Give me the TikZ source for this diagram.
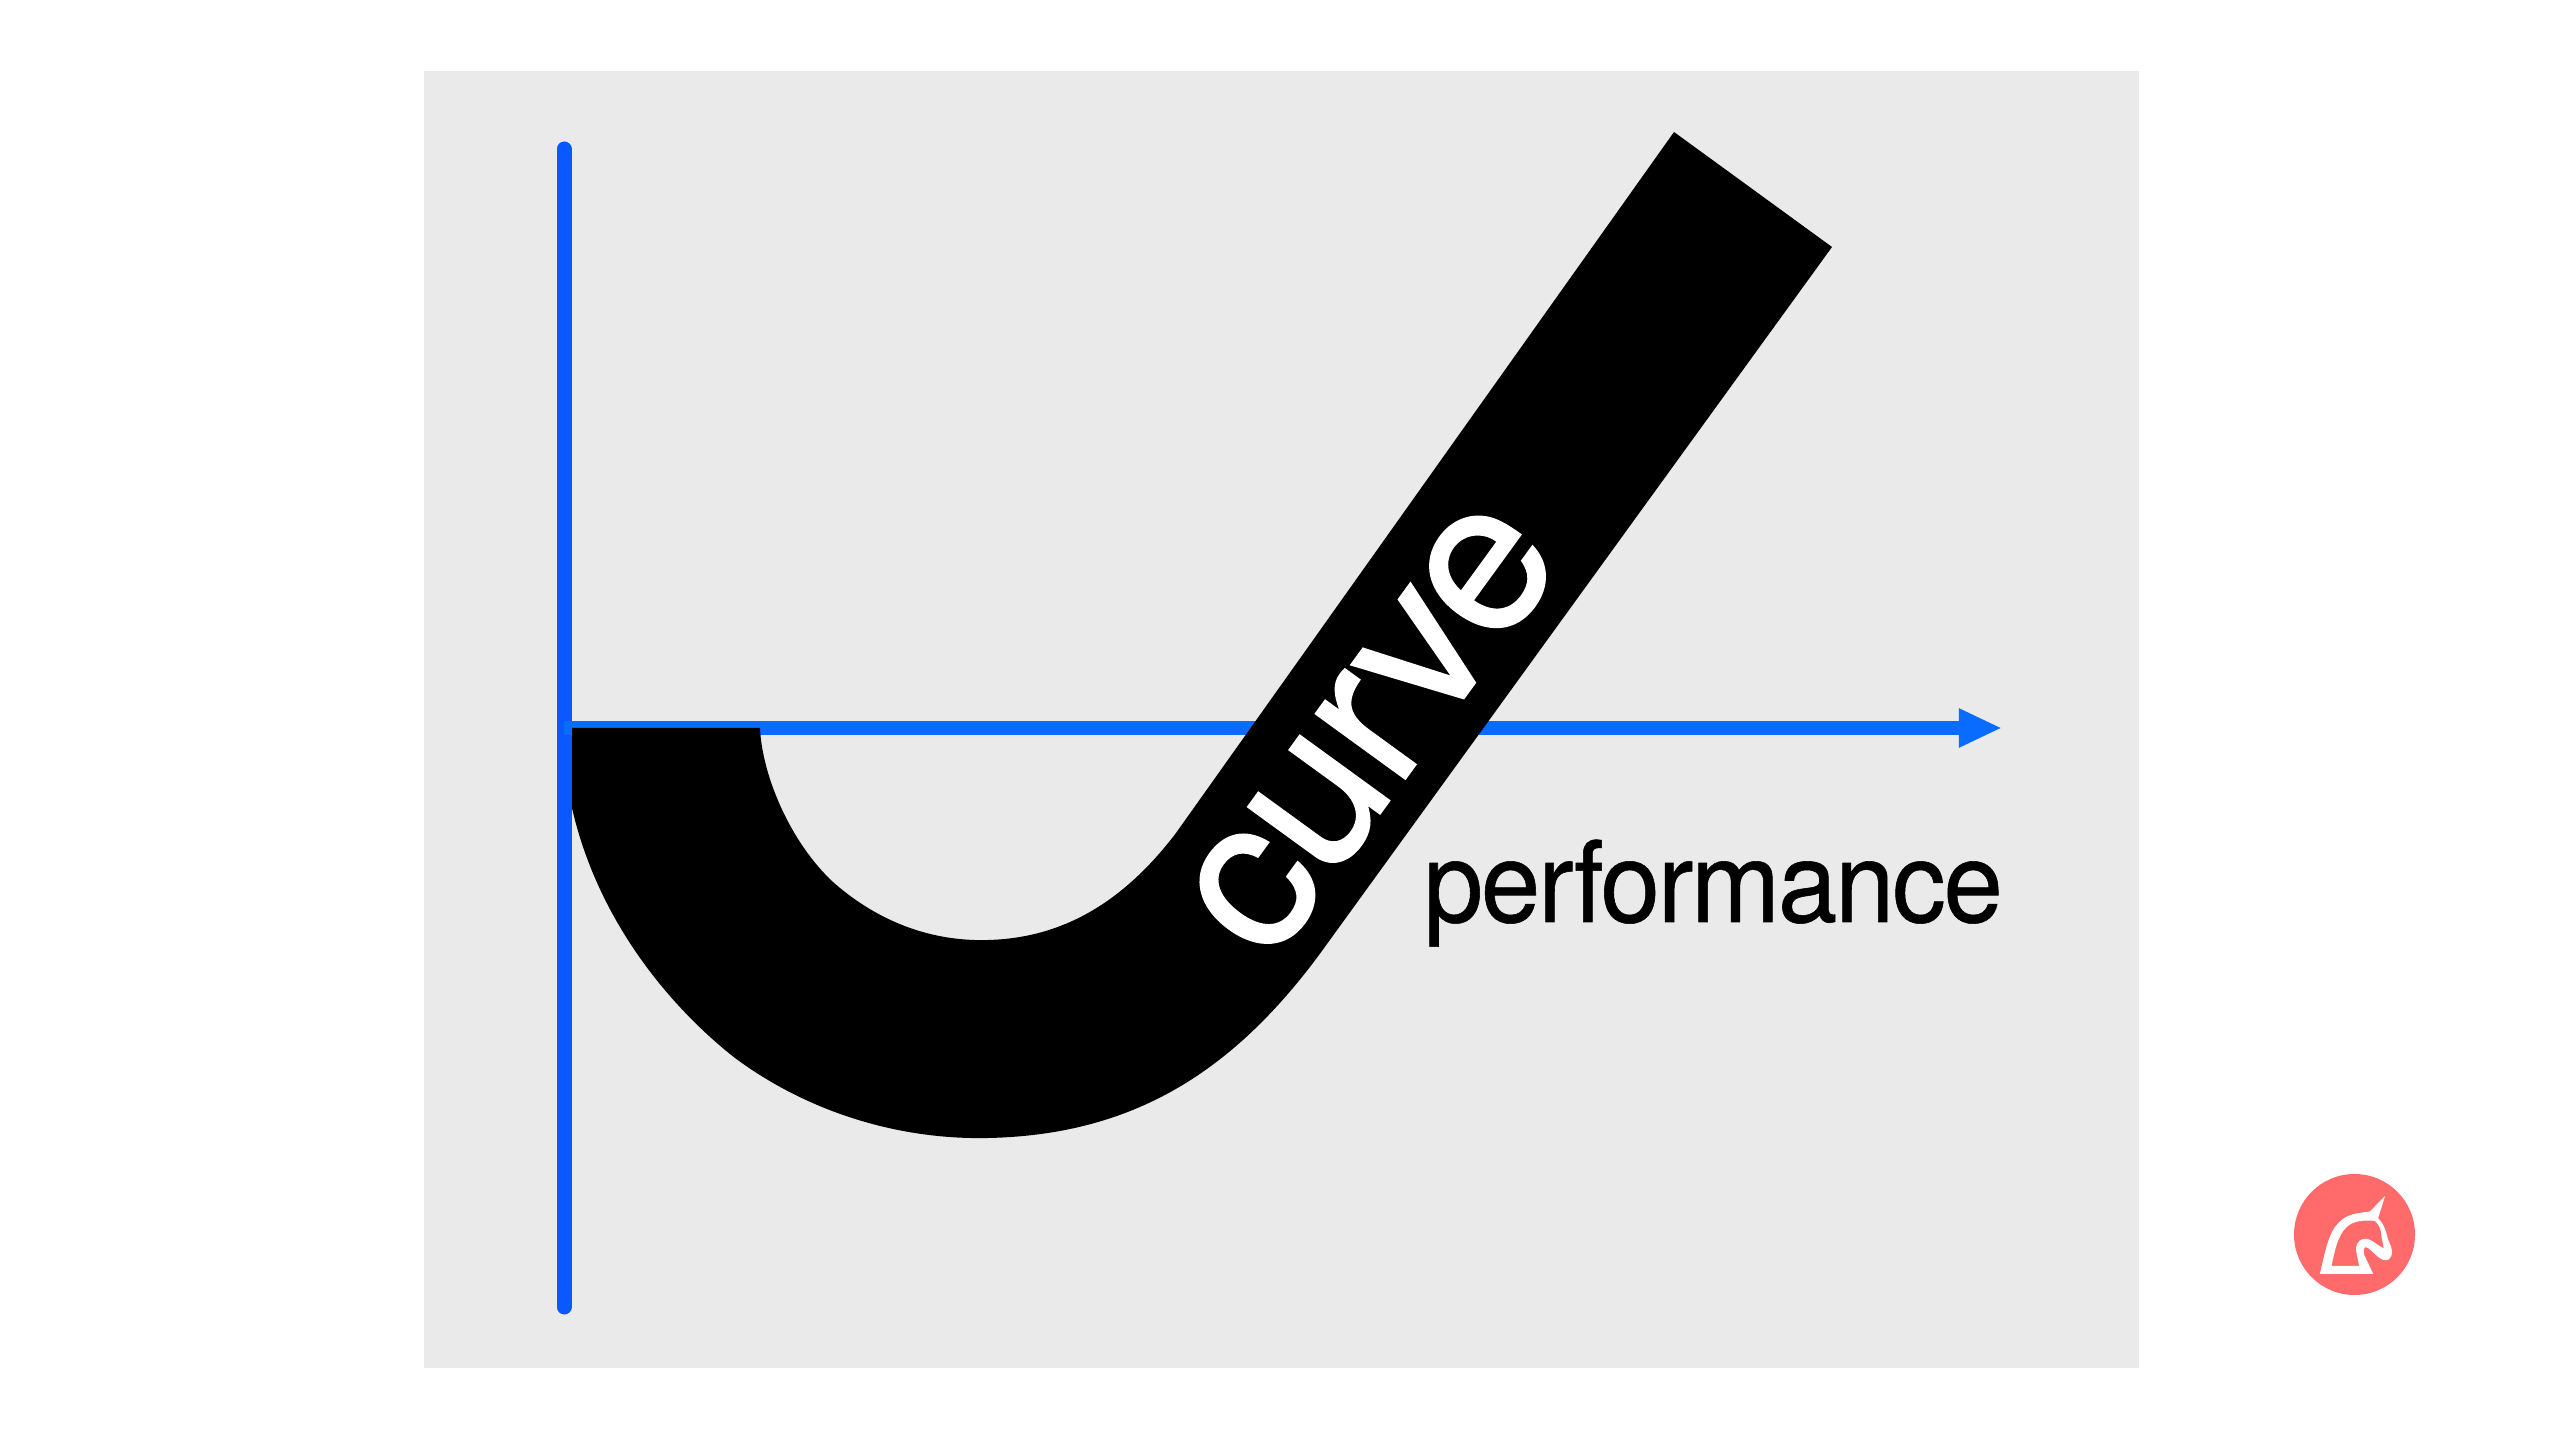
\documentclass[tikz,border=0pt]{standalone}
\usepackage{fontspec}
\usepackage{xcolor}
\usetikzlibrary{calc,arrows.meta}
\setmainfont{TeX Gyre Heros}
\newfontfamily\curvefont[FakeBold=1,LetterSpace=-1.5]{TeX Gyre Heros}
\newfontfamily\perffont[FakeStretch=0.95,FakeBold=0.5,LetterSpace=-2]{TeX Gyre Heros}
\definecolor{panelbg}{HTML}{EAEAEA}
\definecolor{vaxis}{HTML}{0A58FF}
\definecolor{haxis}{HTML}{0A6CFF}
\definecolor{badge}{HTML}{FF6B6B}
\tikzset{
  panel/.style={fill=panelbg, draw=none},
  vline/.style={draw=vaxis, line width=0.15cm, line cap=round},
  hline/.style={draw=haxis, line width=0.14cm, -{Triangle[length=0.43cm,width=0.36cm]}},
  band/.style={fill=black, draw=none},
  labw/.style={text=white, font=\curvefont\fontsize{60}{60}\selectfont, inner sep=0pt},
  labk/.style={text=black, font=\perffont\fontsize{32}{33}\selectfont, inner sep=0pt},
}

\begin{document}
\begin{tikzpicture}[x=0.01cm,y=-0.01cm]
  \useasboundingbox (0,0) rectangle (2560,1440);
  \fill[white] (0,0) rectangle (2560,1440);
  \fill[panel] (424,71) rectangle (2139,1368);

  \coordinate (Vtop) at (564,149);
  \coordinate (Vbot) at (564,1307);
  \coordinate (Hstart) at (564,728);
  \coordinate (Hend) at (2002,728);

  \draw[vline] (Vtop)--(Vbot);
  \draw[hline] (Hstart)--(Hend);

  % thick J shape
  \fill[band] (572,728) -- (572,808)
    .. controls (600,930) and (680,1015) .. (735,1058)
    .. controls (805,1110) and (895,1140) .. (988,1138)
    .. controls (1130,1135) and (1230,1075) .. (1319,955)
    -- (1832,247) -- (1674,132) -- (1176,833)
    .. controls (1125,900) and (1065,938) .. (988,940)
    .. controls (920,942) and (868,913) .. (833,882)
    .. controls (790,842) and (762,775) .. (760,728) -- cycle;

  \node[labw,rotate=54] (curvelab) at (1373,729) {curve};
  \node[labk,anchor=base west] (perflab) at (1423,922) {performance};

  % badge
  \fill[badge] (2354.5,1234.5) circle (60.5);
  \begin{scope}[shift={(2240,1140)},x=0.00333cm,y=-0.00333cm]
    \fill[white,even odd rule] (240,402)
      .. controls (255,340) and (265,280) .. (295,250)
      .. controls (320,222) and (350,220) .. (390,215)
      -- (436,168) -- (415,235)
      .. controls (435,255) and (440,280) .. (445,300)
      .. controls (455,320) and (465,345) .. (445,360)
      .. controls (425,368) and (405,340) .. (385,325)
      .. controls (372,315) and (370,330) .. (373,345)
      -- (400,402) -- cycle
      (275,378) .. controls (285,330) and (295,285) .. (320,262)
      .. controls (340,242) and (375,240) .. (405,243)
      .. controls (420,255) and (425,275) .. (425,290)
      -- (432,325)
      .. controls (415,320) and (395,295) .. (375,297)
      .. controls (350,298) and (345,325) .. (350,340)
      -- (358,378) -- cycle;
  \end{scope}
\end{tikzpicture}
\end{document}
